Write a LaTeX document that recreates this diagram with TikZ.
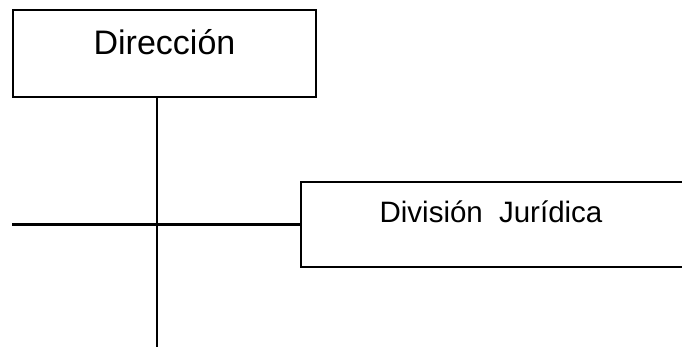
\documentclass[tikz,border=0pt]{standalone}
\usepackage{fontspec}
\setmainfont{Liberation Sans}
\usetikzlibrary{positioning}

\tikzset{
  caja/.style={draw, line width=2.2pt, inner sep=0pt},
  rotulo/.style={font=\fontsize{34}{36}\selectfont}
}

\begin{document}
\begin{tikzpicture}[x=1pt, y=-1pt, line width=2.2pt]
\useasboundingbox (0,0) rectangle (682,349);
\coordinate (baja) at (157,347);
\coordinate (izq) at (12,224.5);
\node[caja, minimum width=303pt, minimum height=87pt] (dir) at (164.5,53.5) {};
\node[rotulo] (dirtxt) at ([yshift=-33pt]dir.north) {Dirección};
\node[caja, minimum width=389pt, minimum height=85pt] (div) at (495.5,224.5) {};
\node[rotulo, font=\fontsize{29.5}{31}\selectfont] (divtxt) at (491,212) {División\hspace{0.55em}Jurídica};
\draw (dir.south -| baja) -- (baja);
\draw (izq) -- (div.west);
\end{tikzpicture}
\end{document}
